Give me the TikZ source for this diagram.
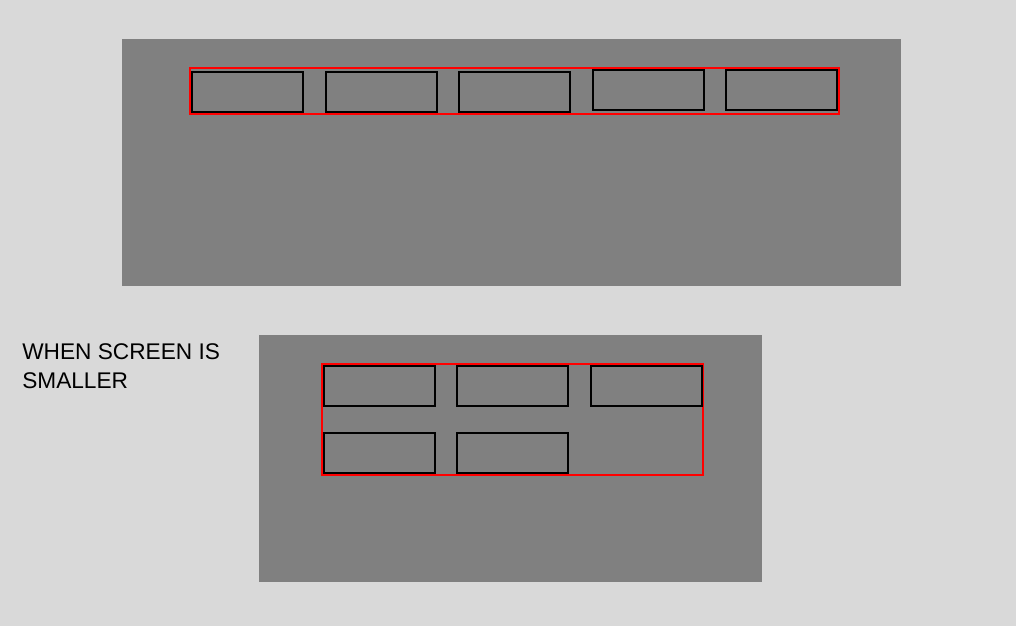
\documentclass[tikz,border=0pt]{standalone}
\usepackage{fontspec}
\setmainfont{Liberation Sans}
\usepackage{tikz}
\usetikzlibrary{positioning}
\definecolor{bggray}{HTML}{D9D9D9}
\definecolor{panelgray}{HTML}{808080}

\begin{document}
\begin{tikzpicture}[x=0.75pt,y=-0.75pt,node distance=15.375pt,
panel/.style={fill=panelgray, inner sep=0pt, anchor=north west},
itembox/.style={draw=black, line width=1.5pt, minimum width=83.25pt, minimum height=30pt, inner sep=0pt},
wrapbox/.style={draw=red, line width=1.5pt, inner sep=0pt}]
\useasboundingbox[fill=bggray] (0,0) rectangle (1016,626);
% wide screen
\node[panel, minimum width=584.25pt, minimum height=185.25pt] (wide) at (122,39) {};
\node[wrapbox, minimum width=486.75pt, minimum height=34.5pt] (widerow) at (514.5,91) {};
\node[itembox] (w1) at (247.5,92) {};
\node[itembox, right=of w1] (w2) {};
\node[itembox, right=of w2] (w3) {};
\node[itembox, right=of w3, yshift=1.5pt] (w4) {};
\node[itembox, right=of w4] (w5) {};
% smaller screen
\node[align=left, anchor=north west, inner sep=0pt, font=\fontsize{17pt}{21.75pt}\selectfont] (note) at (22,343) {WHEN SCREEN IS\\SMALLER};
\node[panel, minimum width=377.25pt, minimum height=185.25pt] (narrow) at (259,335) {};
\node[wrapbox, minimum width=285.75pt, minimum height=83.25pt] (narrowrow) at (512.5,419.5) {};
\node[itembox] (n1) at (379,386) {};
\node[itembox, right=of n1] (n2) {};
\node[itembox, right=of n2] (n3) {};
\node[itembox, below=18.75pt of n1] (n4) {};
\node[itembox, right=of n4] (n5) {};
\end{tikzpicture}
\end{document}
